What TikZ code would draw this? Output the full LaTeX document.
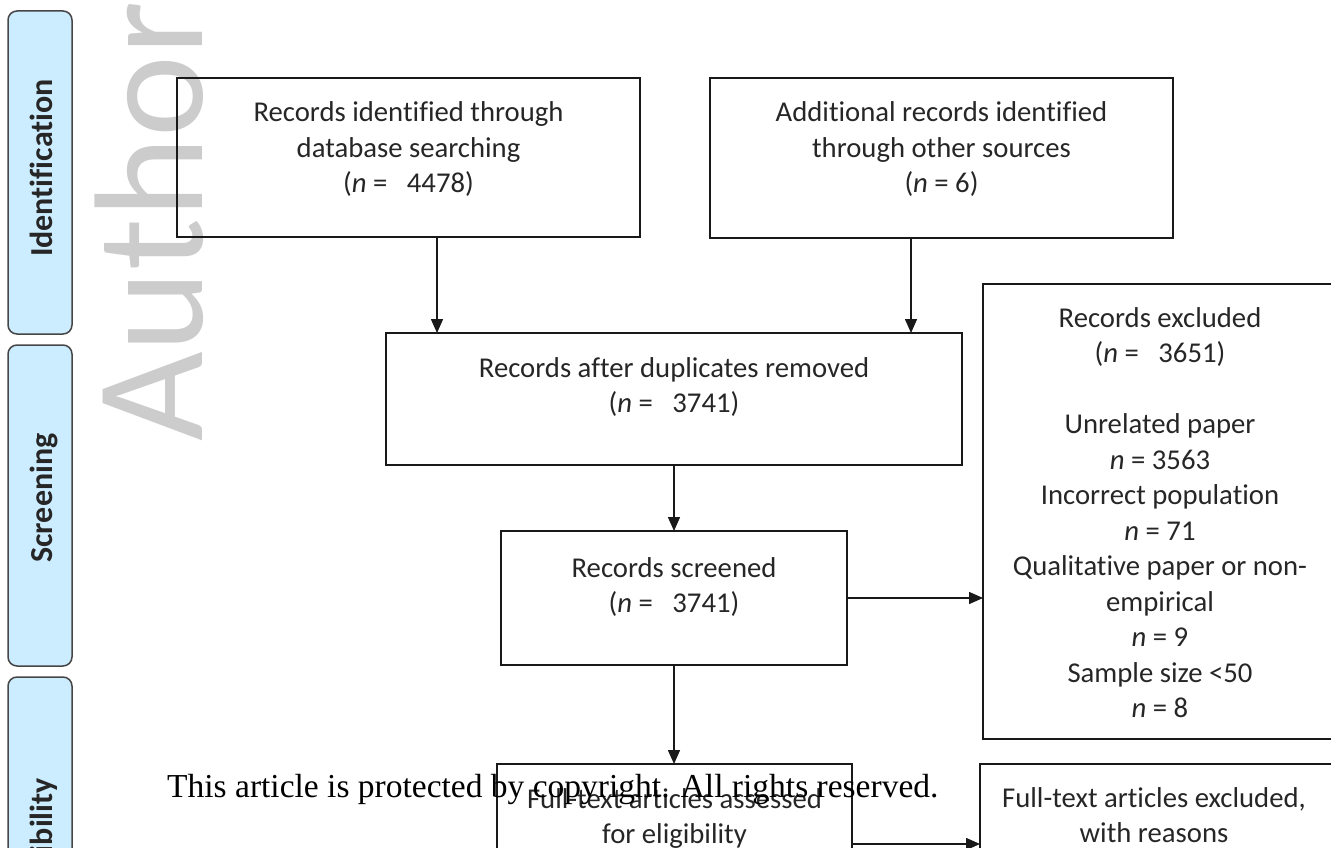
\documentclass[tikz,border=0pt]{standalone}
\usepackage{fontspec}
\setmainfont{Carlito}[Ligatures={NoCommon}]
\newfontfamily\cpyfamily{Liberation Serif}
\usetikzlibrary{arrows.meta}
\newcommand\bxfont{\fontsize{28.7}{35.5}\selectfont}
\newcommand\phfont{\fontsize{32}{38}\selectfont\bfseries}
\newcommand\wmfont{\fontsize{155}{160}\selectfont}
\newcommand\cpfont{\cpyfamily\fontsize{33.5}{40}\selectfont}
\definecolor{phasefill}{RGB}{204,236,255}
\definecolor{phasedraw}{RGB}{70,70,70}
\definecolor{txtcol}{RGB}{38,38,38}
\tikzset{
  flowbox/.style={draw=black!90, line width=1.6pt, inner sep=0pt, outer sep=0pt, rectangle},
  boxtext/.style={anchor=base, align=center, inner sep=0pt, font=\bxfont, text=txtcol},
  phase/.style={draw=phasedraw, fill=phasefill, line width=1.5pt, rounded corners=9pt, minimum width=64pt, inner sep=0pt, outer sep=0pt},
  phasetext/.style={rotate=90, inner sep=0pt, font=\phfont, text=black!85},
  arr/.style={line width=1.5pt, draw=black!90, -{Triangle[length=14pt,width=12pt]}},
}
\begin{document}
\begin{tikzpicture}[x=1pt,y=-1pt]
\useasboundingbox (0,0) rectangle (1331,848);
\clip (0,0) rectangle (1331,848);
% watermark
\node[rotate=90, anchor=base west, inner sep=0pt, font=\wmfont, text=black!20] (wm) at (202,442) {Author};
% phase boxes
\node[phase, minimum height=323pt] (p1) at (40,172.5) {};
\node[phase, minimum height=321pt] (p2) at (40,505.5) {};
\node[phase, minimum height=323pt] (p3) at (40,838.5) {};
\node[phasetext, anchor=base] (l1) at (52,168) {Identification};
\node[phasetext, anchor=base] (l2) at (52,498) {Screening};
\node[phasetext, anchor=base east] (l3) at (52,778) {Eligibility};
% flow boxes
\node[flowbox, minimum width=463pt, minimum height=159pt] (b1) at (408.5,157.5) {};
\node[flowbox, minimum width=463pt, minimum height=160pt] (b2) at (941.5,158) {};
\node[flowbox, minimum width=576pt, minimum height=132pt] (b3) at (674,399) {};
\node[flowbox, minimum width=346pt, minimum height=134pt] (b4) at (674,598) {};
\node[flowbox, minimum width=354pt, minimum height=455pt] (b5) at (1160,511.5) {};
\node[flowbox, minimum width=355pt, minimum height=160pt] (b6) at (674.5,844) {};
\node[flowbox, minimum width=360pt, minimum height=160pt] (b7) at (1160,844) {};
% texts (anchor = baseline of the last line)
\node[boxtext] (t1) at (408.5,193) {Records identified through\\database searching\\(\textit{n} =\ \ \ 4478)};
\node[boxtext] (t2) at (941.5,193) {Additional records identified\\through other sources\\(\textit{n} = 6)};
\node[boxtext] (t3) at (674,412.5) {Records after duplicates removed\\(\textit{n} =\ \ \ 3741)};
\node[boxtext] (t4) at (674,612.5) {Records screened\\(\textit{n} =\ \ \ 3741)};
\node[boxtext] (t5) at (1160,717.5) {Records excluded\\(\textit{n} =\ \ \ 3651)\\[35.5pt]Unrelated paper\\\textit{n} = 3563\\Incorrect population\\\textit{n} = 71\\Qualitative paper or non-\\empirical\\\textit{n} = 9\\Sample size <50\\\textit{n} = 8};
\node[boxtext] (t6) at (674.5,843.5) {Full-text articles assessed\\for eligibility};
\node[boxtext] (t7) at (1154,842.5) {Full-text articles excluded,\\with reasons};
% connectors
\coordinate (a1) at (437,0);
\coordinate (a2) at (911,0);
\draw[arr] (b1.south -| a1) -- (b3.north -| a1);
\draw[arr] (b2.south -| a2) -- (b3.north -| a2);
\draw[arr] (b3.south) -- (b4.north);
\draw[arr] (b4.east) -- (b4.east -| b5.west);
\draw[arr] (b4.south) -- (b4.south |- b6.north);
\draw[arr] (b6.east) -- (b6.east -| b7.west);
% copyright overlay
\node[anchor=base west, inner sep=0pt, font=\cpfont, text=black] (cp) at (167,797) {This article is protected by copyright. All rights reserved.};
\end{tikzpicture}
\end{document}
